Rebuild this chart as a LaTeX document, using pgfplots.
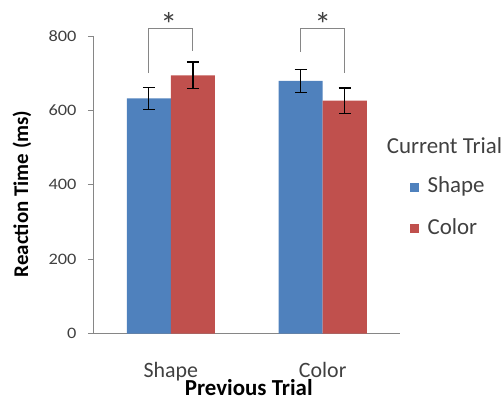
\documentclass[border=0pt]{standalone}
\usepackage{fontspec}
\setmainfont{Carlito}
\newfontfamily\tickfont{Carlito}[FakeStretch=1.15]
\usepackage{pgfplots}
\pgfplotsset{compat=1.18}
\definecolor{cblue}{HTML}{4F81BD}
\definecolor{cred}{HTML}{C0504D}
\definecolor{axgray}{HTML}{868686}
\definecolor{txt}{HTML}{404040}
\begin{document}
\begin{tikzpicture}
\begin{axis}[
  width=307bp, height=298bp, scale only axis,
  xmin=-0.513, xmax=1.507, ymin=0, ymax=800,
  axis x line=bottom, axis y line=left,
  axis line style={axgray, line width=0.8bp, -},
  clip=false,
  xtick={0,1}, xticklabels={Shape,Color},
  x tick label style={font=\fontsize{22}{22}\selectfont, text=txt, yshift=-23bp},
  ytick={0,200,400,600,800},
  y tick label style={font=\tickfont\fontsize{16}{16}\selectfont, text=txt, xshift=-8bp},
  /pgf/number format/assume math mode=true,
  major tick length=5bp,
  tick style={axgray, line width=0.8bp},
  xtick style={draw=none},
  ytick align=outside, ytick pos=left,
  xlabel={\textbf{Previous Trial}},
  xlabel style={font=\fontsize{23}{23}\selectfont, at={(axis description cs:0.508,0)}, anchor=base, inner sep=0pt, yshift=-62bp},
  ylabel={\textbf{Reaction Time (ms)}},
  ylabel style={font=\fontsize{21}{21}\selectfont, at={(axis description cs:0,0.47)}, anchor=center, yshift=71bp},
  bar width=0.29,
  legend style={at={(axis cs:1.572,338)}, anchor=west, draw=none, fill=none,
    inner sep=0pt, outer sep=0pt, font=\fontsize{23}{23}\selectfont, text=txt,
    nodes={inner sep=0pt, text height=15bp, text depth=4bp},
    row sep=22.5bp, column sep=9bp},
  legend cell align=left,
  legend image code/.code={\fill[#1] (0bp,-4.5bp) rectangle (9bp,4.5bp);},
  error bars/y dir=both, error bars/y explicit,
  error bars/error bar style={black, line width=1.3bp},
  error bars/error mark options={black, line width=1.3bp, mark size=6bp, rotate=90},
]
\addplot[ybar, bar shift=0, fill=cblue, draw=none]
  coordinates {(-0.145,632) +- (0,29) (0.855,679) +- (0,31)};
\addlegendentry{Shape}
\addplot[ybar, bar shift=0, fill=cred, draw=none]
  coordinates {(0.145,694) +- (0,36) (1.145,626) +- (0,34)};
\addlegendentry{Color}
% significance brackets
\draw[axgray, line width=1.2bp] (axis cs:-0.145,700) -- (axis cs:-0.145,819) -- (axis cs:0.145,819) -- (axis cs:0.145,760);
\draw[axgray, line width=1.2bp] (axis cs:0.855,757) -- (axis cs:0.855,819) -- (axis cs:1.145,819) -- (axis cs:1.145,700);
\node[text=txt, font=\fontsize{34}{34}\selectfont, anchor=center] at (axis cs:-0.013,830) {*};
\node[text=txt, font=\fontsize{34}{34}\selectfont, anchor=center] at (axis cs:1.0,830) {*};
\node[text=txt, font=\fontsize{23}{23}\selectfont, anchor=west, inner sep=0pt] at (axis cs:1.421,504.7) {Current Trial};
% page frame (invisible)
\path (axis cs:-1.125,-185.2) rectangle (axis cs:2.178,896.6);
\end{axis}
\end{tikzpicture}
\end{document}
